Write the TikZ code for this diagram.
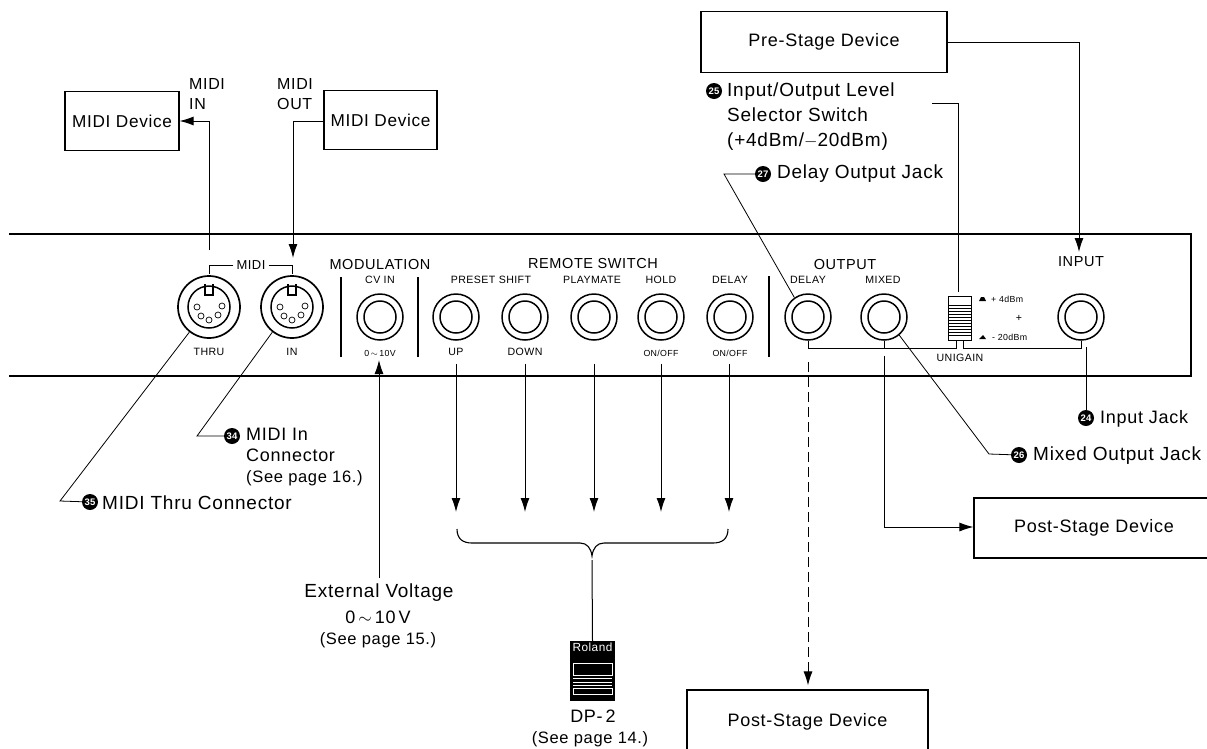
\documentclass[tikz,border=0pt]{standalone}
\usepackage{fontspec}
\setmainfont[LetterSpace=4]{Liberation Sans}
\usetikzlibrary{arrows.meta}
\newcommand{\seepage}{\fontsize{16.5}{21}\selectfont}
\tikzset{
  big/.style={font=\fontsize{18}{21}\selectfont,inner sep=0pt},
  callout/.style={font=\fontsize{19}{21}\selectfont,inner sep=0pt},
  mid/.style={font=\fontsize{14.5}{16}\selectfont,inner sep=0pt},
  tiny/.style={font=\fontsize{10.6}{13}\selectfont,inner sep=0pt},
  wee/.style={font=\fontsize{8.8}{11}\selectfont,inner sep=0pt},
  devicebox/.style={draw,line width=1.1pt,big,inner sep=0pt},
  jackouter/.style={draw,circle,line width=1.5pt,minimum size=46pt,inner sep=0pt},
  jackinner/.style={draw,circle,line width=1.5pt,minimum size=32pt,inner sep=0pt},
  dinouter/.style={draw,circle,line width=1.7pt,minimum size=62pt,inner sep=0pt},
  dininner/.style={draw,circle,line width=1.5pt,minimum size=42pt,inner sep=0pt},
  pinhole/.style={draw,circle,line width=.7pt,minimum size=6pt,inner sep=0pt},
  badge/.style={circle,fill=black,text=white,minimum size=16pt,inner sep=0pt,font=\fontsize{9.5}{9.5}\selectfont\bfseries},
  leader/.style={line width=.8pt},
  wire/.style={line width=1pt},
  arrowed/.style={-{Latex[length=14pt,width=9pt]}},
}
\begin{document}
\begin{tikzpicture}[x=1pt,y=-1pt]
  \useasboundingbox (0,0) rectangle (1207,748);
  \clip (0,0) rectangle (1207,748);

  % front panel
  \coordinate (pa) at (9,234);
  \coordinate (pb) at (1191,234);
  \coordinate (pc) at (1191,376);
  \coordinate (pd) at (9,376);
  \draw[line width=1.3pt] (pa) -- (pb) -- (pc) -- (pd);

  % devices
  \node[devicebox,font=\fontsize{17.2}{20}\selectfont,minimum width=114pt,minimum height=59pt] (midiin) at (122,121) {MIDI Device};
  \node[devicebox,font=\fontsize{17.2}{20}\selectfont,minimum width=113pt,minimum height=59pt] (midiout) at (380.5,120) {MIDI Device};
  \node[devicebox,minimum width=246pt,minimum height=61pt] (prestage) at (824,42) {Pre-Stage Device};
  \node[devicebox,minimum width=240pt,minimum height=60pt] (poststagea) at (1094,528) {Post-Stage Device};
  \node[devicebox,minimum width=241pt,minimum height=64pt] (poststageb) at (807.5,722) {Post-Stage Device};

  % midi connectors
  \node[dinouter] (thru) at (209,307) {};
  \node[dininner] at (209,307) {};
  \node[dinouter] (in) at (292,307) {};
  \node[dininner] at (292,307) {};
  \foreach \px in {209,292} {
    \draw[line width=1.2pt] (\px-4,284) -- (\px-4,295) -- (\px+4,295) -- (\px+4,284);
    \node[pinhole] at (\px-12,307) {};
    \node[pinhole] at (\px-8,316) {};
    \node[pinhole] at (\px,320) {};
    \node[pinhole] at (\px+9,315) {};
    \node[pinhole] at (\px+13,306) {};
  }

  % quarter inch jacks
  \foreach \name/\px in {cv/380,up/456,down/525,play/594,hold/661,delay/730,delayout/808,mixed/884,input/1081} {
    \node[jackouter] (\name) at (\px,317) {};
    \node[jackinner] at (\px,317) {};
  }

  % panel labels
  \node[tiny] (lmidi) at (251,265) {\fontsize{13}{13}\selectfont MIDI};
  \node[mid] (lmod) at (380,264) {MODULATION};
  \node[mid] (lremote) at (593,263) {REMOTE SWITCH};
  \node[mid] (loutput) at (845,264) {OUTPUT};
  \node[mid] (linput) at (1081,262) {INPUT};
  \foreach \name/\px/\txt in {a/380/CV IN,b/491/PRESET SHIFT,c/592/PLAYMATE,d/661/HOLD,e/730/DELAY,f/808/DELAY,g/883/MIXED}
    \node[tiny] (top\name) at (\px,280) {\txt};
  \foreach \name/\px/\py/\txt in {a/209/352/THRU,b/292/352/IN,c/456/352/UP,d/525/352/DOWN,e/960/358/UNIGAIN}
    \node[tiny] (bot\name) at (\px,\py) {\txt};
  \node[wee] (lcv) at (380,353) {0\,$\sim$\,10V};
  \node[wee] (lona) at (661,353) {ON/OFF};
  \node[wee] (lonb) at (730,353) {ON/OFF};

  % dividers
  \draw[line width=1.1pt] (341,277) -- (341,357);
  \draw[line width=1.1pt] (418,277) -- (418,357);
  \draw[line width=1.1pt] (769,276) -- (769,357);

  % midi bracket
  \draw[leader] (lmidi.west) ++(-3,0) -- (209,265) -- (209,274);
  \draw[leader] (lmidi.east) ++(3,0) -- (292,265) -- (292,274);

  % level switch
  \node[draw,line width=1pt,minimum width=23pt,minimum height=44pt,inner sep=0pt] (switch) at (959.5,318) {};
  \foreach \py in {305,308,...,335}
    \draw[line width=.9pt] (948,\py) -- (971,\py);
  \node[wee,anchor=west] (lplus) at (991,299) {+ 4dBm};
  \node[wee,anchor=west] (lminus) at (992,337) {- 20dBm};
  \fill (979,301) -- (986,301) -- (984,297) -- (981,297) -- cycle;
  \fill (979,339) -- (986,339) -- (983,335) -- cycle;
  \node[tiny] (lcross) at (1019,318) {+};
  \draw[leader] (delayout.south) -- (808,348) -- (956,348) -- (956,341);
  \draw[leader] (963,341) -- (963,348) -- (1081,348) -- (input.south);
  \draw[leader] (mixed.south) -- (884,348);

  % badges and their texts
  \node[badge] (bmidiin) at (232,436) {34};
  \node[big,anchor=north west,align=left] (tmidiin) at (246,428) {MIDI In\\Connector\\{\seepage (See page 16.)}};
  \node[badge] (bthru) at (90,502) {35};
  \node[callout,anchor=west] (tthru) at (102,503) {MIDI Thru Connector};
  \node[badge] (blevel) at (714,91) {25};
  \node[callout,font=\fontsize{19}{25}\selectfont,anchor=north west,align=left] (tlevel) at (727,83) {Input/Output Level\\Selector Switch\\(+4dBm/$-$20dBm)};
  \node[badge] (bdelay) at (763,174) {27};
  \node[callout,anchor=west] (tdelay) at (777,174) {Delay Output Jack};
  \node[badge] (binput) at (1086,418) {24};
  \node[big,anchor=west] (tinput) at (1100,419) {Input Jack};
  \node[badge] (bmixed) at (1019,455) {26};
  \node[callout,anchor=west] (tmixed) at (1033,456) {Mixed Output Jack};

  % leaders
  \coordinate (kmidiin) at (197,436);
  \coordinate (kthru) at (60,501);
  \coordinate (kdelay) at (724,174);
  \coordinate (kmixed) at (989,454);
  \draw[leader] (bmidiin) -- (kmidiin) -- (in.232);
  \draw[leader] (bthru) -- (kthru) -- (thru.232);
  \draw[leader] (bdelay) -- (kdelay) -- (delayout.125);
  \draw[leader] (bmixed) -- (kmixed) -- (mixed.310);
  \draw[leader] (binput) -- (1086,347);
  \draw[leader] (932,103) -- (958,103) -- (958,292);

  % midi cables
  \coordinate (kthrud) at (209,250);
  \coordinate (kind) at (293,258);
  \draw[wire,arrowed] (kthrud) -- (209,121) -- (midiin.east);
  \draw[wire,arrowed] (midiout.west |- 0,121) -- (293,121) -- (kind);
  \node[big,anchor=west,align=left,font=\fontsize{16}{20}\selectfont] (lin) at (189,94) {MIDI\\IN};
  \node[big,anchor=west,align=left,font=\fontsize{16}{20}\selectfont] (lout) at (277,94) {MIDI\\OUT};

  % audio cables
  \coordinate (kinput) at (1079,252);
  \coordinate (kmix) at (884,356);
  \coordinate (kdel) at (808,362);
  \draw[wire,arrowed] (prestage.east) -- (1079,42) -- (kinput);
  \draw[wire,arrowed] (kmix) -- (884,527) -- (poststagea.west |- 0,527);
  \draw[wire,arrowed,dashed,dash pattern=on 10pt off 5pt,shorten >=4pt] (kdel) -- (poststageb.north -| kdel);

  % external voltage
  \node[callout] (tvolt) at (379,593) {External Voltage};
  \node[big] (tvrange) at (378,617) {0\,$\sim$\,10\,V};
  \node[inner sep=0pt] (tvpage) at (378,640) {\seepage (See page 15.)};
  \coordinate (kvolt) at (379,578);
  \draw[wire,arrowed] (kvolt) -- (379,360);

  % remote switch cables
  \foreach \px in {456,525,594,661,729}
    \draw[wire,arrowed] (\px,364) -- (\px,512);
  \draw[line width=1.1pt] (457,529) .. controls (457,539) and (463,543) .. (472,543) -- (580,543) .. controls (587,543) and (591,548) .. (592,556) .. controls (593,548) and (597,543) .. (604,543) -- (713,543) .. controls (722,543) and (728,539) .. (728,529);
  \coordinate (kbrace) at (592,560);

  % pedal
  \node[fill=black,minimum width=45pt,minimum height=60pt,inner sep=0pt] (pedal) at (592.5,671) {};
  \node[font=\fontsize{11.8}{11.8}\selectfont,text=white,inner sep=0pt] (proland) at (592.5,647) {Roland};
  \draw[white,line width=1pt] (573,663) rectangle (612,675);
  \foreach \py in {678,682,685}
    \draw[white,line width=.7pt] (573,\py) -- (612,\py);
  \draw[white,line width=1pt] (573,688) rectangle (612,694);
  \draw[wire] (kbrace) -- (pedal.north);
  \node[big] (ldp) at (593,716) {DP-\,2};
  \node[inner sep=0pt] (lpage) at (590,739) {\seepage (See page 14.)};
\end{tikzpicture}
\end{document}
